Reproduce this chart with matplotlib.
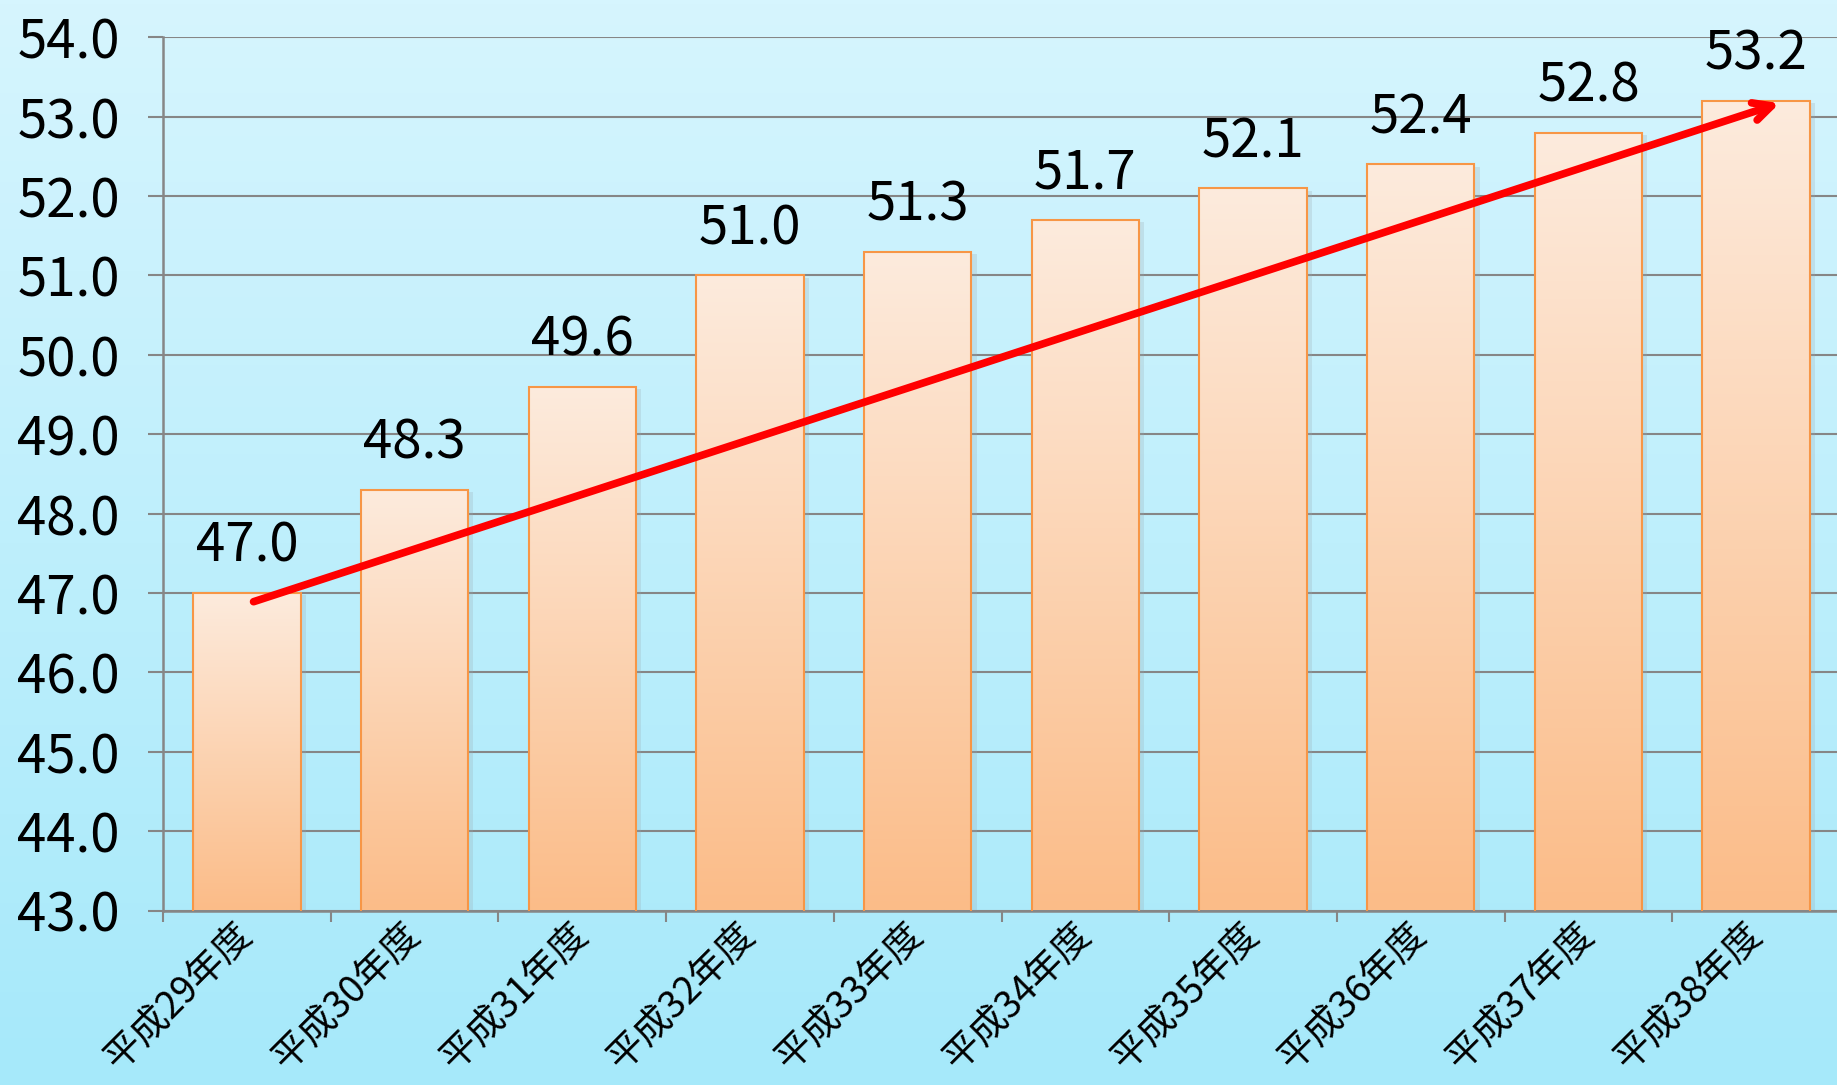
import numpy as np
import matplotlib
matplotlib.use("Agg")
import matplotlib.pyplot as plt
from matplotlib.colors import LinearSegmentedColormap

plt.rcParams['font.family'] = ['Noto Sans CJK JP', 'DejaVu Sans']

categories = ["平成29年度", "平成30年度", "平成31年度", "平成32年度", "平成33年度",
              "平成34年度", "平成35年度", "平成36年度", "平成37年度", "平成38年度"]
values = [47.0, 48.3, 49.6, 51.0, 51.3, 51.7, 52.1, 52.4, 52.8, 53.2]
yticks = [43.0, 44.0, 45.0, 46.0, 47.0, 48.0, 49.0, 50.0, 51.0, 52.0, 53.0, 54.0]

W, H = 1837, 1085
fig = plt.figure(figsize=(W / 100, H / 100), dpi=100)

# background gradient
bg = fig.add_axes([0, 0, 1, 1], zorder=-1)
bg_cmap = LinearSegmentedColormap.from_list("bg", ["#A6E9FA", "#D6F5FE"])
bg.imshow(np.linspace(0, 1, 256).reshape(-1, 1), cmap=bg_cmap, aspect='auto',
          extent=[0, 1, 0, 1], origin='lower')
bg.axis('off')

left, right = 163 / W, 1.0
bottom, top = 1 - 910.5 / H, 1 - 37.3 / H
ax = fig.add_axes([left, bottom, right - left, top - bottom])
ax.set_facecolor('none')

cat_w = 167.7
xmax = -0.5 + (W - 163) / cat_w
ymin, ymax = 43.0, 54.0

x = np.arange(len(categories))
bars = ax.bar(x, values, width=0.64, facecolor='none', edgecolor='#F79646',
              linewidth=1.5, zorder=3)

bar_cmap = LinearSegmentedColormap.from_list("bar", ["#FBBC88", "#FDEBDD"])
shadow_cmap = LinearSegmentedColormap.from_list("s", ["#9aa9b0", "#9aa9b0"])
grad = np.linspace(0, 1, 256).reshape(-1, 1)
for b in bars:
    x0, w, h = b.get_x(), b.get_width(), b.get_height()
    # shadow
    ax.imshow(np.zeros((2, 2)), cmap=shadow_cmap, alpha=0.25,
              extent=[x0 + 0.015, x0 + w + 0.025, ymin - 0.06, h - 0.03],
              aspect='auto', zorder=1.5)
    ax.imshow(grad, cmap=bar_cmap, aspect='auto', origin='lower',
              extent=[x0, x0 + w, ymin, h], zorder=2)
    ax.text(x0 + w / 2, h + 0.24, f"{h:.1f}", ha='center', va='bottom',
            fontsize=38, color='black', zorder=5)

ax.set_xlim(-0.5, xmax)
ax.set_ylim(ymin, ymax)

ax.set_yticks(yticks)
ax.set_yticklabels([f"{t:.1f}" for t in yticks])
ax.tick_params(axis='y', length=11, width=1.5, color='#868686', pad=20,
               labelsize=38)
ax.yaxis.grid(True, color='#868686', linewidth=1.5, zorder=0)
ax.set_axisbelow(True)

ax.set_xticks(x)
ax.set_xticklabels(categories, rotation=45, ha='right', va='center',
                   rotation_mode='anchor', fontsize=27)
ax.tick_params(axis='x', which='major', length=0, pad=14)
ax.set_xticks(np.arange(len(categories)) - 0.5, minor=True)
ax.tick_params(axis='x', which='minor', length=8, width=1.5, color='#868686')

for s in ['top', 'right']:
    ax.spines[s].set_visible(False)
for s in ['left', 'bottom']:
    ax.spines[s].set_color('#868686')
    ax.spines[s].set_linewidth(1.8)

# trend arrow
ax.annotate("", xy=(len(values) - 1 + 0.14, values[-1] - 0.03),
            xytext=(0.04, values[0] - 0.11),
            arrowprops=dict(arrowstyle="->,head_length=1.3,head_width=0.65",
                            color='#FF0000', lw=5.5, shrinkA=0, shrinkB=0,
                            capstyle='round'),
            zorder=6)

fig.savefig("out.png", dpi=100)
